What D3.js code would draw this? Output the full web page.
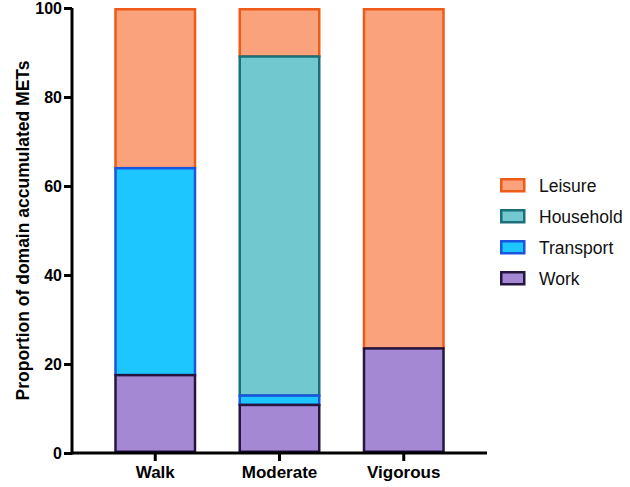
<!DOCTYPE html>
<html>
<head>
<meta charset="utf-8">
<script src="https://cdn.jsdelivr.net/npm/d3@7"></script>
<style>
  body { margin: 0; background: #fff; }
  text { font-family: "Liberation Sans", Arial, sans-serif; }
</style>
</head>
<body>
<div id="chart"></div>
<script>
const categories = ['Walk', 'Moderate', 'Vigorous']
const domains = ['Work', 'Transport', 'Household', 'Leisure']
const work = [17.5, 10.8, 23.5]
const transport = [46.5, 2.1, 0]
const household = [0, 76.2, 0]
const leisure = [36, 10.9, 76.5]
const yTicks = [0, 20, 40, 60, 80, 100]

const FILL = { Leisure: '#f9a27c', Household: '#72c8cf', Transport: '#1ec6ff', Work: '#a488d3' }
const STROKE = { Leisure: '#f05a19', Household: '#1b6f78', Transport: '#1a55df', Work: '#24163f' }

const width = 630, height = 487
const margin = { top: 8, right: 143, bottom: 34, left: 72 }

const rows = categories.map((c, i) => ({
  cat: c, Work: work[i], Transport: transport[i], Household: household[i], Leisure: leisure[i]
}))
const stacked = d3.stack().keys(domains)(rows)

const svg = d3.select('#chart').append('svg')
  .attr('width', width)
  .attr('height', height)

const x = d3.scaleBand()
  .domain(categories)
  .range([margin.left, width - margin.right])
  .paddingInner(0.34)
  .paddingOuter(0.34)

const y = d3.scaleLinear()
  .domain([0, 100])
  .range([height - margin.bottom, margin.top])

// bars: upper layers first so the lower segment's border sits on top at the join
svg.append('g').selectAll('g')
  .data(stacked.slice().reverse())
  .enter()
  .append('g')
  .attr('fill', d => FILL[d.key])
  .attr('stroke', d => STROKE[d.key])
  .attr('stroke-width', 2.5)
  .selectAll('rect')
  .data(d => d.filter(s => s[1] - s[0] > 0))
  .enter()
  .append('rect')
  .attr('x', d => x(d.data.cat) + 1.25)
  .attr('width', x.bandwidth() - 2.5)
  .attr('y', d => y(d[1]) + (d[1] >= 100 ? 1.25 : 0))
  .attr('height', d => y(d[0]) - y(d[1]) - (d[1] >= 100 ? 1.25 : 0) - (d[0] === 0 ? 1.25 : 0))

// axes
const yAxis = svg.append('g')
  .attr('transform', `translate(${margin.left},0)`)
  .call(d3.axisLeft(y).tickValues(yTicks).tickSize(8).tickSizeOuter(0).tickPadding(2))
const xAxis = svg.append('g')
  .attr('transform', `translate(0,${height - margin.bottom})`)
  .call(d3.axisBottom(x).tickSize(8).tickSizeOuter(0).tickPadding(5))

for (const ax of [yAxis, xAxis]) {
  ax.select('.domain').attr('stroke', '#000').attr('stroke-width', 3)
  ax.selectAll('.tick line').attr('stroke', '#000').attr('stroke-width', 3)
  ax.selectAll('.tick text')
    .attr('fill', '#000')
    .attr('font-weight', 'bold')
    .style('font-family', '"Liberation Sans", Arial, sans-serif')
}
yAxis.selectAll('.tick text').attr('font-size', '16px').attr('dy', '0.34em')
xAxis.selectAll('.tick text').attr('font-size', '17px')
yAxis.select('.domain').attr('d', `M0,${y(0) + 1.5}V${y(100)}`)
xAxis.select('.domain').attr('d', `M${margin.left},0H${width - margin.right}`)

svg.append('text')
  .attr('transform', `translate(29,${(y(0) + y(100)) / 2}) rotate(-90)`)
  .attr('text-anchor', 'middle')
  .attr('font-size', '17.5px')
  .attr('font-weight', 'bold')
  .attr('fill', '#000')
  .text('Proportion of domain accumulated METs')

// legend
const legendKeys = ['Leisure', 'Household', 'Transport', 'Work']
const legend = svg.append('g').attr('transform', 'translate(500,178)')
const item = legend.selectAll('g')
  .data(legendKeys)
  .enter()
  .append('g')
  .attr('transform', (d, i) => `translate(0,${i * 31})`)
item.append('rect')
  .attr('x', 1.25).attr('y', 1.25)
  .attr('width', 23).attr('height', 12)
  .attr('fill', d => FILL[d])
  .attr('stroke', d => STROKE[d])
  .attr('stroke-width', 2.5)
item.append('text')
  .attr('x', 39)
  .attr('y', 7.5)
  .attr('dy', '0.35em')
  .attr('font-size', '17.5px')
  .attr('fill', '#111')
  .text(d => d)
</script>
</body>
</html>
